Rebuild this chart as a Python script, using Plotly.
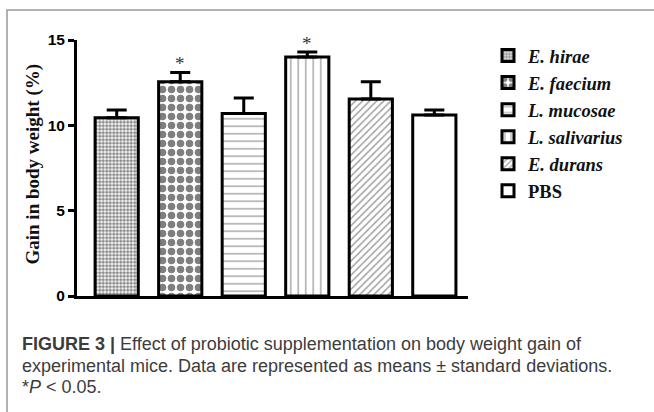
import plotly.graph_objects as go

# Body weight gain (%) per treatment group, mean and standard deviation
groups = ["E. hirae", "E. faecium", "L. mucosae", "L. salivarius", "E. durans", "PBS"]
legend_names = ["<i>E. hirae</i>", "<i>E. faecium</i>", "<i>L. mucosae</i>",
                "<i>L. salivarius</i>", "<i>E. durans</i>", "PBS"]
means = [10.45, 12.55, 10.7, 14.0, 11.55, 10.6]
sds = [0.45, 0.55, 0.9, 0.3, 1.0, 0.3]
significant = [False, True, False, True, False, False]
y_ticks = [0, 5, 10, 15]

# Fill pattern for each group's bar
patterns = [
    dict(shape=".", size=3.5, solidity=0.62, fgcolor="#111", bgcolor="white"),
    dict(shape=".", size=9, solidity=0.55, fgcolor="black", bgcolor="white"),
    dict(shape="-", size=7.5, solidity=0.2, fgcolor="#555", bgcolor="white"),
    dict(shape="|", size=7.5, solidity=0.25, fgcolor="#777", bgcolor="white"),
    dict(shape="/", size=5, solidity=0.3, fgcolor="#444", bgcolor="white"),
    dict(shape="", bgcolor="white"),
]

W, H = 654, 412
L, R, T, B = 77, 186, 40, 116
PW, PH = W - L - R, H - T - B


def px_x(x):
    return (x - L) / PW


def px_y(y):
    return (H - B - y) / PH


fig = go.Figure()
for g, name, m, s, pat in zip(groups, legend_names, means, sds, patterns):
    fig.add_trace(go.Bar(
        x=[g], y=[m], name=name,
        marker=dict(color="white", line=dict(color="black", width=3), pattern=pat),
        error_y=dict(type="data", symmetric=False, array=[s], arrayminus=[0],
                     color="black", thickness=3, width=10),
    ))

# significance markers above the error bars
for g, m, s, sig in zip(groups, means, sds, significant):
    if sig:
        fig.add_annotation(x=g, y=m + s, text="*", showarrow=False,
                           yanchor="bottom", yshift=-4,
                           font=dict(family="Liberation Serif", size=19, color="#333"))

# y-axis title
fig.add_annotation(xref="paper", yref="paper", x=px_x(32.5), y=px_y(164),
                   text="<b>Gain in body weight (%)</b>", textangle=-90,
                   showarrow=False, xanchor="center", yanchor="middle",
                   font=dict(family="Liberation Serif", size=19, color="#111"))

# caption
cap_font = dict(family="Liberation Sans", size=18, color="#3c3c3c")
caption = [
    "<b>FIGURE 3 |</b> Effect of probiotic supplementation on body weight gain of",
    "experimental mice. Data are represented as means ± standard deviations.",
    "*<i>P</i> &lt; 0.05.",
]
for line, yc in zip(caption, [344, 366, 387]):
    fig.add_annotation(xref="paper", yref="paper", x=px_x(20), y=px_y(yc),
                       text=line, showarrow=False, xanchor="left", yanchor="middle",
                       align="left", font=cap_font)

# panel frame
fig.add_shape(type="rect", xref="paper", yref="paper",
              x0=px_x(7), x1=px_x(700), y0=px_y(10), y1=px_y(460),
              line=dict(color="#999", width=1.5), fillcolor="rgba(0,0,0,0)", layer="below")

fig.update_layout(
    width=W, height=H,
    margin=dict(l=L, r=R, t=T, b=B),
    paper_bgcolor="white", plot_bgcolor="white",
    barmode="overlay", bargap=0.32,
    showlegend=True,
    legend=dict(x=px_x(488), y=px_y(37), xanchor="left", yanchor="top",
                traceorder="normal", tracegroupgap=0,
                font=dict(family="Liberation Serif", size=18.5, color="#111", weight="bold"),
                bgcolor="rgba(0,0,0,0)"),
    xaxis=dict(range=[-0.625, 5.53], showticklabels=False, ticks="",
               showline=True, linecolor="black", linewidth=3, showgrid=False, zeroline=False),
    yaxis=dict(range=[0, 15], tickvals=y_ticks, ticks="outside", ticklen=6, tickwidth=2.5,
               tickcolor="black", showline=True, linecolor="black", linewidth=3,
               showgrid=False, zeroline=False,
               tickfont=dict(family="Liberation Sans", size=15.5, color="black", weight="bold")),
)

fig.write_html("out.html")
